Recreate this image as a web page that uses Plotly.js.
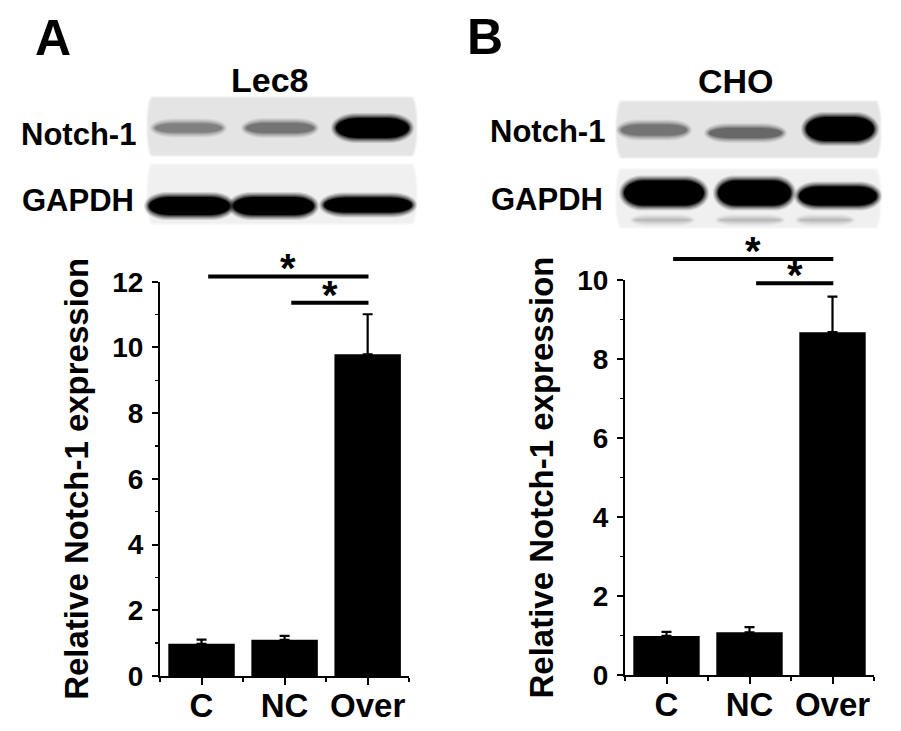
<!DOCTYPE html>
<html>
<head>
<meta charset="utf-8">
<script src="https://cdn.plot.ly/plotly-3.0.1.min.js"></script>
<style>html,body{margin:0;padding:0;background:#fff}#chart{width:901px;height:731px}</style>
</head>
<body>
<div id="chart"></div>
<script>
// ---------- data ----------
const categories = ['C', 'NC', 'Over'];
const lec8Values = [0.98, 1.10, 9.79];
const lec8Errors = [0.13, 0.12, 1.22];
const choValues = [0.99, 1.08, 8.68];
const choErrors = [0.10, 0.13, 0.90];
const lec8SigPairs = [[0, 2], [1, 2]];
const lec8SigHeights = [12.16, 11.36];
const choSigPairs = [[0, 2], [1, 2]];
const choSigHeights = [10.53, 9.92];
const lec8Max = 12;
const choMax = 10;
// blot band darkness per lane (0 = none, 1 = black)
const lec8NotchBands = [0.45, 0.5, 1.0];
const lec8GapdhBands = [1.0, 1.0, 1.0];
const choNotchBands = [0.5, 0.55, 1.0];
const choGapdhBands = [1.0, 1.0, 1.0];
const panelLabels = ['A', 'B'];
const cellLines = ['Lec8', 'CHO'];
const blotLabels = ['Notch-1', 'GAPDH'];
const yTitle = 'Relative Notch-1 expression';

// ---------- layout helpers (pixel geometry) ----------
const W = 901, H = 731;
const PX = v => v / W;
const PY = v => 1 - v / H;
const FONT = 'Liberation Sans, Arial, sans-serif';

function gray(d) {
  const g = Math.round(232 - d * 232);
  return 'rgb(' + g + ',' + g + ',' + g + ')';
}

const shapes = [];
const annotations = [];

function pill(x0, x1, cy, h, rxFrac) {
  const k = 0.5523;
  const rx = Math.min((x1 - x0) * rxFrac, (x1 - x0) / 2);
  const t = cy - h / 2, b = cy + h / 2;
  const P = (x, y) => PX(x).toFixed(5) + ',' + PY(y).toFixed(5);
  return 'M' + P(x0 + rx, t) + ' L' + P(x1 - rx, t) +
    ' C' + P(x1 - rx + k * rx, t) + ' ' + P(x1, cy - k * h / 2) + ' ' + P(x1, cy) +
    ' C' + P(x1, cy + k * h / 2) + ' ' + P(x1 - rx + k * rx, b) + ' ' + P(x1 - rx, b) +
    ' L' + P(x0 + rx, b) +
    ' C' + P(x0 + rx - k * rx, b) + ' ' + P(x0, cy + k * h / 2) + ' ' + P(x0, cy) +
    ' C' + P(x0, cy - k * h / 2) + ' ' + P(x0 + rx - k * rx, t) + ' ' + P(x0 + rx, t) + ' Z';
}
function softRect(x0, y0, x1, y1, fill) {
  [[2, 0.35], [1, 0.5], [0, 1]].forEach(([pad, op]) => {
    shapes.push({type: 'path', xref: 'paper', yref: 'paper',
      path: pill(x0 - pad, x1 + pad, (y0 + y1) / 2, (y1 - y0) + 2 * pad, 0.02),
      fillcolor: fill, opacity: op, line: {width: 0}, layer: 'below'});
  });
}
function band(x0, x1, cy, h, dark, rf) {
  const col = gray(dark);
  const layers = [[5, 0.12], [4, 0.15], [3, 0.2], [2, 0.3], [1, 0.45], [0, 1]];
  layers.forEach(([pad, op]) => {
    shapes.push({type: 'path', xref: 'paper', yref: 'paper',
      path: pill(x0 - pad, x1 + pad, cy, h + 2 * pad, rf),
      fillcolor: col, opacity: op, line: {width: 0}, layer: 'below'});
  });
}
function label(text, x, y, size) {
  annotations.push({text: text, xref: 'paper', yref: 'paper', x: PX(x), y: PY(y), xanchor: 'center', yanchor: 'middle',
    showarrow: false, font: {family: FONT, size: size, color: '#000', weight: 700}});
}

// ---------- blots ----------
const blotGeom = [
  { notchStrip: [148, 98, 416, 155], gapdhStrip: [148, 165, 416, 223],
    notchLanes: [[155, 222, 128, 9], [246, 314, 128, 10], [336, 409, 128, 20]],
    gapdhLanes: [[149, 230, 206, 18], [233, 314, 206, 18], [324, 412, 205, 15]],
    panel: [53, 38], title: [270, 80], notchLbl: [78, 134], gapdhLbl: [78, 201] },
  { notchStrip: [617, 102, 880, 157], gapdhStrip: [617, 170, 880, 227],
    notchLanes: [[621, 687, 130, 11], [709, 782, 133, 10], [806, 874, 129, 24]],
    gapdhLanes: [[624, 704, 193, 25], [718, 791, 193, 25], [799, 877, 196, 19]],
    panel: [485, 37], title: [736, 81], notchLbl: [547, 131], gapdhLbl: [547, 199] }
];
const notchSets = [lec8NotchBands, choNotchBands];
const gapdhSets = [lec8GapdhBands, choGapdhBands];

blotGeom.forEach((g, p) => {
  softRect(...g.notchStrip, '#e4e4e4');
  softRect(...g.gapdhStrip, '#f0f0f0');
  g.notchLanes.forEach((l, i) => band(l[0], l[1], l[2], l[3], notchSets[p][i], 0.3));
  g.gapdhLanes.forEach((l, i) => band(l[0], l[1], l[2], l[3], gapdhSets[p][i], 0.25));
  label(panelLabels[p], g.panel[0], g.panel[1], 50);
  label(cellLines[p], g.title[0], g.title[1], 34);
  label(blotLabels[0], g.notchLbl[0], g.notchLbl[1], 31);
  label(blotLabels[1], g.gapdhLbl[0], g.gapdhLbl[1], 31);
});
// faint lower bands in CHO GAPDH strip
[[635, 690], [720, 780], [800, 850]].forEach(l => band(l[0], l[1], 220, 2, 0.2, 0.3));

// ---------- bar charts ----------
const xIdx = categories.map((c, i) => i);
function barTrace(vals, errs, xa, ya) {
  return {type: 'bar', x: xIdx, y: vals, xaxis: xa, yaxis: ya, width: 0.8,
    marker: {color: '#000', line: {width: 0}},
    error_y: {type: 'data', symmetric: false, array: errs, arrayminus: errs.map(() => 0),
      color: '#000', thickness: 2.2, width: 5},
    hoverinfo: 'skip'};
}
const traces = [barTrace(lec8Values, lec8Errors, 'x', 'y'), barTrace(choValues, choErrors, 'x2', 'y2')];

function sig(pairs, heights, ymax, xref, yref) {
  pairs.forEach((pr, k) => {
    const x0 = pr[0] + 0.08, x1 = pr[1] + 0.01;
    const yy = heights[k] / ymax;
    shapes.push({type: 'line', xref: xref, yref: yref + ' domain', x0: x0, x1: x1, y0: yy, y1: yy,
      line: {color: '#000', width: 4}});
    annotations.push({text: '*', xref: xref, yref: yref + ' domain', x: (x0 + x1) / 2, y: yy,
      xanchor: 'center', yanchor: 'bottom', yshift: -16, showarrow: false,
      font: {family: FONT, size: 40, color: '#000', weight: 700}});
  });
}
sig(lec8SigPairs, lec8SigHeights, lec8Max, 'x', 'y');
sig(choSigPairs, choSigHeights, choMax, 'x2', 'y2');

function xAxis(domain, anchor) {
  return {domain: domain, anchor: anchor, range: [-0.5, 2.5], tickmode: 'array', tickvals: xIdx, ticktext: categories,
    ticks: 'outside', ticklen: 7, tickwidth: 2, tickcolor: '#000', showline: true, linewidth: 2, linecolor: '#000',
    showgrid: false, zeroline: false, fixedrange: true, ticklabelstandoff: -8,
    tickfont: {family: FONT, size: 33, color: '#000', weight: 700},
    minor: {tickmode: 'array', tickvals: [-0.5, 0.5, 1.5, 2.5], ticks: 'outside', ticklen: 3.5, tickwidth: 2, tickcolor: '#000', showgrid: false}};
}
function yAxis(domain, anchor, ymax) {
  return {domain: domain, anchor: anchor, range: [0, ymax], dtick: 2, tick0: 0,
    ticks: 'outside', ticklen: 6, tickwidth: 2, tickcolor: '#000', showline: true, linewidth: 2, linecolor: '#000',
    showgrid: false, zeroline: false, fixedrange: true, ticklabelstandoff: 3,
    tickfont: {family: FONT, size: 28, color: '#000', weight: 700},
    title: {text: yTitle, standoff: 14, font: {family: FONT, size: 33, color: '#000', weight: 700}},
    minor: {dtick: 1, tick0: 0, ticks: 'outside', ticklen: 3.5, tickwidth: 1.5, tickcolor: '#000', showgrid: false}};
}

const layout = {
  width: W, height: H, margin: {l: 0, r: 0, t: 0, b: 0}, autosize: false,
  paper_bgcolor: '#fff', plot_bgcolor: 'rgba(0,0,0,0)', showlegend: false,
  xaxis: xAxis([PX(160), PX(409.2)], 'y'),
  yaxis: yAxis([PY(676), PY(281.7)], 'x', lec8Max),
  xaxis2: xAxis([PX(625), PX(874)], 'y2'),
  yaxis2: yAxis([PY(675), PY(280)], 'x2', choMax),
  shapes: shapes, annotations: annotations, bargap: 0.2
};

Plotly.newPlot('chart', traces, layout, {displayModeBar: false, staticPlot: true});
</script>
</body>
</html>
